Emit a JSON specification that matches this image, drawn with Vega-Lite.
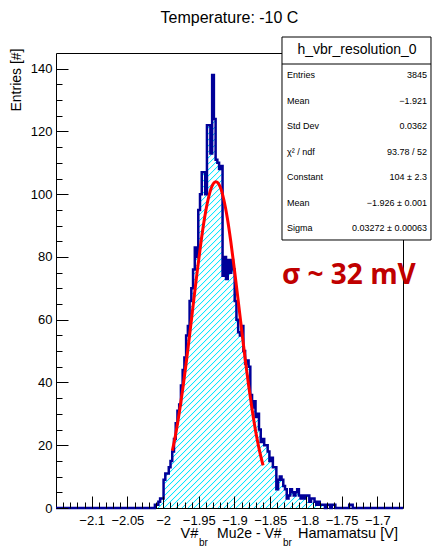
{
  "$schema": "https://vega.github.io/schema/vega-lite/v6.json",
  "width": 347,
  "height": 455,
  "autosize": "none",
  "padding": {"left": 56, "top": 53, "right": 30, "bottom": 39},
  "background": "white",
  "config": {"view": {"stroke": "#000", "strokeWidth": 1}, "font": "Liberation Sans"},
  "title": {"text": "Temperature: -10 C", "font": "Liberation Sans", "fontSize": 16, "fontWeight": "normal", "color": "#000", "anchor": "middle", "frame": "group", "offset": -2, "baseline": "alphabetic"},
  "datasets": {
    "hist": [
      {"x": -2.15, "n": 0},
      {"x": -2.01392, "n": 0}, {"x": -2.01149, "n": 1}, {"x": -2.00906, "n": 1}, {"x": -2.00663, "n": 2},
      {"x": -2.0042, "n": 3}, {"x": -2.00177, "n": 3}, {"x": -1.99934, "n": 9}, {"x": -1.99691, "n": 11},
      {"x": -1.99448, "n": 11}, {"x": -1.99205, "n": 13}, {"x": -1.98962, "n": 15}, {"x": -1.98719, "n": 18},
      {"x": -1.98476, "n": 22}, {"x": -1.98233, "n": 27}, {"x": -1.9799, "n": 31}, {"x": -1.97747, "n": 33},
      {"x": -1.97504, "n": 39}, {"x": -1.97261, "n": 44}, {"x": -1.97018, "n": 48}, {"x": -1.96775, "n": 55},
      {"x": -1.96532, "n": 58}, {"x": -1.96289, "n": 66}, {"x": -1.96046, "n": 70}, {"x": -1.95803, "n": 76},
      {"x": -1.9556, "n": 83}, {"x": -1.95317, "n": 80}, {"x": -1.95074, "n": 95}, {"x": -1.94831, "n": 100},
      {"x": -1.94588, "n": 107}, {"x": -1.94345, "n": 107}, {"x": -1.94102, "n": 100}, {"x": -1.93859, "n": 122},
      {"x": -1.93616, "n": 122}, {"x": -1.93373, "n": 113}, {"x": -1.9313, "n": 138}, {"x": -1.92887, "n": 124},
      {"x": -1.92644, "n": 111}, {"x": -1.92401, "n": 110}, {"x": -1.92158, "n": 108}, {"x": -1.91915, "n": 109},
      {"x": -1.91672, "n": 74}, {"x": -1.91429, "n": 80}, {"x": -1.91186, "n": 73}, {"x": -1.90943, "n": 79},
      {"x": -1.907, "n": 75}, {"x": -1.90457, "n": 79}, {"x": -1.90214, "n": 76}, {"x": -1.89971, "n": 66},
      {"x": -1.89728, "n": 60}, {"x": -1.89485, "n": 56}, {"x": -1.89242, "n": 55}, {"x": -1.88999, "n": 58},
      {"x": -1.88756, "n": 50}, {"x": -1.88513, "n": 46}, {"x": -1.8827, "n": 47}, {"x": -1.88027, "n": 45},
      {"x": -1.87784, "n": 36}, {"x": -1.87541, "n": 32}, {"x": -1.87298, "n": 34}, {"x": -1.87055, "n": 29},
      {"x": -1.86812, "n": 30}, {"x": -1.86569, "n": 25}, {"x": -1.86326, "n": 21}, {"x": -1.86083, "n": 22},
      {"x": -1.8584, "n": 20}, {"x": -1.85597, "n": 20}, {"x": -1.85354, "n": 18}, {"x": -1.85111, "n": 15},
      {"x": -1.84868, "n": 16}, {"x": -1.84625, "n": 13}, {"x": -1.84382, "n": 13}, {"x": -1.84139, "n": 6},
      {"x": -1.83896, "n": 9}, {"x": -1.83653, "n": 10}, {"x": -1.8341, "n": 9}, {"x": -1.83167, "n": 7},
      {"x": -1.82924, "n": 6}, {"x": -1.82681, "n": 3}, {"x": -1.82438, "n": 4}, {"x": -1.82195, "n": 6},
      {"x": -1.81952, "n": 5}, {"x": -1.81709, "n": 4}, {"x": -1.81466, "n": 5}, {"x": -1.81223, "n": 6},
      {"x": -1.8098, "n": 4}, {"x": -1.80737, "n": 3}, {"x": -1.80494, "n": 4}, {"x": -1.80251, "n": 3},
      {"x": -1.80008, "n": 4}, {"x": -1.79765, "n": 4}, {"x": -1.79522, "n": 2}, {"x": -1.79279, "n": 3},
      {"x": -1.79036, "n": 3}, {"x": -1.78793, "n": 2}, {"x": -1.7855, "n": 1}, {"x": -1.78307, "n": 2},
      {"x": -1.78064, "n": 1}, {"x": -1.77821, "n": 1}, {"x": -1.77578, "n": 1}, {"x": -1.77335, "n": 0},
      {"x": -1.77092, "n": 1}, {"x": -1.76849, "n": 1}, {"x": -1.76606, "n": 0}, {"x": -1.76363, "n": 1},
      {"x": -1.7612, "n": 1}, {"x": -1.75877, "n": 0}, {"x": -1.73933, "n": 1}, {"x": -1.7369, "n": 1},
      {"x": -1.73447, "n": 0}, {"x": -1.664, "n": 0}
    ],
    "fit": [
      {"v": -1.987, "g": 18.3}, {"v": -1.982, "g": 24.0}, {"v": -1.977, "g": 30.9}, {"v": -1.972, "g": 38.7},
      {"v": -1.967, "g": 47.4}, {"v": -1.962, "g": 56.8}, {"v": -1.957, "g": 66.4}, {"v": -1.952, "g": 75.8},
      {"v": -1.947, "g": 84.6}, {"v": -1.942, "g": 92.3}, {"v": -1.937, "g": 98.3}, {"v": -1.932, "g": 102.3},
      {"v": -1.926, "g": 104.0}, {"v": -1.92, "g": 102.3}, {"v": -1.915, "g": 98.3}, {"v": -1.91, "g": 92.3},
      {"v": -1.905, "g": 84.6}, {"v": -1.9, "g": 75.8}, {"v": -1.895, "g": 66.4}, {"v": -1.89, "g": 56.8},
      {"v": -1.885, "g": 47.4}, {"v": -1.88, "g": 38.7}, {"v": -1.875, "g": 30.9}, {"v": -1.87, "g": 24.0},
      {"v": -1.865, "g": 18.3}, {"v": -1.86, "g": 13.6}
    ],
    "stats": [
      {"i": 0, "label": "Entries", "value": "3845"},
      {"i": 1, "label": "Mean", "value": "−1.921"},
      {"i": 2, "label": "Std Dev", "value": "0.0362"},
      {"i": 3, "label": "χ² / ndf", "value": "93.78 / 52"},
      {"i": 4, "label": "Constant", "value": "104 ± 2.3"},
      {"i": 5, "label": "Mean", "value": "−1.926 ± 0.001"},
      {"i": 6, "label": "Sigma", "value": "0.03272 ± 0.00063"}
    ]
  },
  "layer": [
    {
      "resolve": {"axis": {"x": "independent", "y": "independent"}},
      "layer": [
        {
          "data": {"name": "hist"},
          "mark": {"type": "area", "interpolate": "step-after",
            "fill": {"gradient": "linear", "x1": 0, "y1": 0, "x2": 0.845, "y2": 1.0547, "stops": [
              {"offset": 0.2, "color": "#fff"}, {"offset": 0.2015, "color": "#00e5ff"}, {"offset": 0.203, "color": "#fff"},
              {"offset": 0.208, "color": "#fff"}, {"offset": 0.2095, "color": "#00e5ff"}, {"offset": 0.211, "color": "#fff"},
              {"offset": 0.216, "color": "#fff"}, {"offset": 0.2175, "color": "#00e5ff"}, {"offset": 0.219, "color": "#fff"},
              {"offset": 0.224, "color": "#fff"}, {"offset": 0.2255, "color": "#00e5ff"}, {"offset": 0.227, "color": "#fff"},
              {"offset": 0.232, "color": "#fff"}, {"offset": 0.2335, "color": "#00e5ff"}, {"offset": 0.235, "color": "#fff"},
              {"offset": 0.24, "color": "#fff"}, {"offset": 0.2415, "color": "#00e5ff"}, {"offset": 0.243, "color": "#fff"},
              {"offset": 0.248, "color": "#fff"}, {"offset": 0.2495, "color": "#00e5ff"}, {"offset": 0.251, "color": "#fff"},
              {"offset": 0.256, "color": "#fff"}, {"offset": 0.2575, "color": "#00e5ff"}, {"offset": 0.259, "color": "#fff"},
              {"offset": 0.264, "color": "#fff"}, {"offset": 0.2655, "color": "#00e5ff"}, {"offset": 0.267, "color": "#fff"},
              {"offset": 0.272, "color": "#fff"}, {"offset": 0.2735, "color": "#00e5ff"}, {"offset": 0.275, "color": "#fff"},
              {"offset": 0.28, "color": "#fff"}, {"offset": 0.2815, "color": "#00e5ff"}, {"offset": 0.283, "color": "#fff"},
              {"offset": 0.288, "color": "#fff"}, {"offset": 0.2895, "color": "#00e5ff"}, {"offset": 0.291, "color": "#fff"},
              {"offset": 0.296, "color": "#fff"}, {"offset": 0.2975, "color": "#00e5ff"}, {"offset": 0.299, "color": "#fff"},
              {"offset": 0.304, "color": "#fff"}, {"offset": 0.3055, "color": "#00e5ff"}, {"offset": 0.307, "color": "#fff"},
              {"offset": 0.312, "color": "#fff"}, {"offset": 0.3135, "color": "#00e5ff"}, {"offset": 0.315, "color": "#fff"},
              {"offset": 0.32, "color": "#fff"}, {"offset": 0.3215, "color": "#00e5ff"}, {"offset": 0.323, "color": "#fff"},
              {"offset": 0.328, "color": "#fff"}, {"offset": 0.3295, "color": "#00e5ff"}, {"offset": 0.331, "color": "#fff"},
              {"offset": 0.336, "color": "#fff"}, {"offset": 0.3375, "color": "#00e5ff"}, {"offset": 0.339, "color": "#fff"},
              {"offset": 0.344, "color": "#fff"}, {"offset": 0.3455, "color": "#00e5ff"}, {"offset": 0.347, "color": "#fff"},
              {"offset": 0.352, "color": "#fff"}, {"offset": 0.3535, "color": "#00e5ff"}, {"offset": 0.355, "color": "#fff"},
              {"offset": 0.36, "color": "#fff"}, {"offset": 0.3615, "color": "#00e5ff"}, {"offset": 0.363, "color": "#fff"},
              {"offset": 0.368, "color": "#fff"}, {"offset": 0.3695, "color": "#00e5ff"}, {"offset": 0.371, "color": "#fff"},
              {"offset": 0.376, "color": "#fff"}, {"offset": 0.3775, "color": "#00e5ff"}, {"offset": 0.379, "color": "#fff"},
              {"offset": 0.384, "color": "#fff"}, {"offset": 0.3855, "color": "#00e5ff"}, {"offset": 0.387, "color": "#fff"},
              {"offset": 0.392, "color": "#fff"}, {"offset": 0.3935, "color": "#00e5ff"}, {"offset": 0.395, "color": "#fff"},
              {"offset": 0.4, "color": "#fff"}, {"offset": 0.4015, "color": "#00e5ff"}, {"offset": 0.403, "color": "#fff"},
              {"offset": 0.408, "color": "#fff"}, {"offset": 0.4095, "color": "#00e5ff"}, {"offset": 0.411, "color": "#fff"},
              {"offset": 0.416, "color": "#fff"}, {"offset": 0.4175, "color": "#00e5ff"}, {"offset": 0.419, "color": "#fff"},
              {"offset": 0.424, "color": "#fff"}, {"offset": 0.4255, "color": "#00e5ff"}, {"offset": 0.427, "color": "#fff"},
              {"offset": 0.432, "color": "#fff"}, {"offset": 0.4335, "color": "#00e5ff"}, {"offset": 0.435, "color": "#fff"},
              {"offset": 0.44, "color": "#fff"}, {"offset": 0.4415, "color": "#00e5ff"}, {"offset": 0.443, "color": "#fff"},
              {"offset": 0.448, "color": "#fff"}, {"offset": 0.4495, "color": "#00e5ff"}, {"offset": 0.451, "color": "#fff"},
              {"offset": 0.456, "color": "#fff"}, {"offset": 0.4575, "color": "#00e5ff"}, {"offset": 0.459, "color": "#fff"},
              {"offset": 0.464, "color": "#fff"}, {"offset": 0.4655, "color": "#00e5ff"}, {"offset": 0.467, "color": "#fff"},
              {"offset": 0.472, "color": "#fff"}, {"offset": 0.4735, "color": "#00e5ff"}, {"offset": 0.475, "color": "#fff"},
              {"offset": 0.48, "color": "#fff"}, {"offset": 0.4815, "color": "#00e5ff"}, {"offset": 0.483, "color": "#fff"},
              {"offset": 0.488, "color": "#fff"}, {"offset": 0.4895, "color": "#00e5ff"}, {"offset": 0.491, "color": "#fff"},
              {"offset": 0.496, "color": "#fff"}, {"offset": 0.4975, "color": "#00e5ff"}, {"offset": 0.499, "color": "#fff"},
              {"offset": 0.504, "color": "#fff"}, {"offset": 0.5055, "color": "#00e5ff"}, {"offset": 0.507, "color": "#fff"},
              {"offset": 0.512, "color": "#fff"}, {"offset": 0.5135, "color": "#00e5ff"}, {"offset": 0.515, "color": "#fff"},
              {"offset": 0.52, "color": "#fff"}, {"offset": 0.5215, "color": "#00e5ff"}, {"offset": 0.523, "color": "#fff"},
              {"offset": 0.528, "color": "#fff"}, {"offset": 0.5295, "color": "#00e5ff"}, {"offset": 0.531, "color": "#fff"},
              {"offset": 0.536, "color": "#fff"}, {"offset": 0.5375, "color": "#00e5ff"}, {"offset": 0.539, "color": "#fff"},
              {"offset": 0.544, "color": "#fff"}, {"offset": 0.5455, "color": "#00e5ff"}, {"offset": 0.547, "color": "#fff"},
              {"offset": 0.552, "color": "#fff"}, {"offset": 0.5535, "color": "#00e5ff"}, {"offset": 0.555, "color": "#fff"},
              {"offset": 0.56, "color": "#fff"}, {"offset": 0.5615, "color": "#00e5ff"}, {"offset": 0.563, "color": "#fff"},
              {"offset": 0.568, "color": "#fff"}, {"offset": 0.5695, "color": "#00e5ff"}, {"offset": 0.571, "color": "#fff"},
              {"offset": 0.576, "color": "#fff"}, {"offset": 0.5775, "color": "#00e5ff"}, {"offset": 0.579, "color": "#fff"},
              {"offset": 0.584, "color": "#fff"}, {"offset": 0.5855, "color": "#00e5ff"}, {"offset": 0.587, "color": "#fff"},
              {"offset": 0.592, "color": "#fff"}, {"offset": 0.5935, "color": "#00e5ff"}, {"offset": 0.595, "color": "#fff"},
              {"offset": 0.6, "color": "#fff"}, {"offset": 0.6015, "color": "#00e5ff"}, {"offset": 0.603, "color": "#fff"},
              {"offset": 0.608, "color": "#fff"}, {"offset": 0.6095, "color": "#00e5ff"}, {"offset": 0.611, "color": "#fff"},
              {"offset": 0.616, "color": "#fff"}, {"offset": 0.6175, "color": "#00e5ff"}, {"offset": 0.619, "color": "#fff"},
              {"offset": 0.624, "color": "#fff"}, {"offset": 0.6255, "color": "#00e5ff"}, {"offset": 0.627, "color": "#fff"},
              {"offset": 0.632, "color": "#fff"}, {"offset": 0.6335, "color": "#00e5ff"}, {"offset": 0.635, "color": "#fff"},
              {"offset": 0.64, "color": "#fff"}, {"offset": 0.6415, "color": "#00e5ff"}, {"offset": 0.643, "color": "#fff"},
              {"offset": 0.648, "color": "#fff"}, {"offset": 0.6495, "color": "#00e5ff"}, {"offset": 0.651, "color": "#fff"},
              {"offset": 0.656, "color": "#fff"}, {"offset": 0.6575, "color": "#00e5ff"}, {"offset": 0.659, "color": "#fff"},
              {"offset": 0.664, "color": "#fff"}, {"offset": 0.6655, "color": "#00e5ff"}, {"offset": 0.667, "color": "#fff"},
              {"offset": 0.672, "color": "#fff"}, {"offset": 0.6735, "color": "#00e5ff"}, {"offset": 0.675, "color": "#fff"},
              {"offset": 0.68, "color": "#fff"}, {"offset": 0.6815, "color": "#00e5ff"}, {"offset": 0.683, "color": "#fff"},
              {"offset": 0.688, "color": "#fff"}, {"offset": 0.6895, "color": "#00e5ff"}, {"offset": 0.691, "color": "#fff"},
              {"offset": 0.696, "color": "#fff"}, {"offset": 0.6975, "color": "#00e5ff"}, {"offset": 0.699, "color": "#fff"},
              {"offset": 0.704, "color": "#fff"}, {"offset": 0.7055, "color": "#00e5ff"}, {"offset": 0.707, "color": "#fff"},
              {"offset": 0.712, "color": "#fff"}, {"offset": 0.7135, "color": "#00e5ff"}, {"offset": 0.715, "color": "#fff"},
              {"offset": 0.72, "color": "#fff"}, {"offset": 0.7215, "color": "#00e5ff"}, {"offset": 0.723, "color": "#fff"},
              {"offset": 0.728, "color": "#fff"}, {"offset": 0.7295, "color": "#00e5ff"}, {"offset": 0.731, "color": "#fff"},
              {"offset": 0.736, "color": "#fff"}, {"offset": 0.7375, "color": "#00e5ff"}, {"offset": 0.739, "color": "#fff"},
              {"offset": 0.744, "color": "#fff"}, {"offset": 0.7455, "color": "#00e5ff"}, {"offset": 0.747, "color": "#fff"},
              {"offset": 0.752, "color": "#fff"}, {"offset": 0.7535, "color": "#00e5ff"}, {"offset": 0.755, "color": "#fff"},
              {"offset": 0.76, "color": "#fff"}, {"offset": 0.7615, "color": "#00e5ff"}, {"offset": 0.763, "color": "#fff"},
              {"offset": 0.768, "color": "#fff"}, {"offset": 0.7695, "color": "#00e5ff"}, {"offset": 0.771, "color": "#fff"},
              {"offset": 0.776, "color": "#fff"}, {"offset": 0.7775, "color": "#00e5ff"}, {"offset": 0.779, "color": "#fff"},
              {"offset": 0.784, "color": "#fff"}, {"offset": 0.7855, "color": "#00e5ff"}, {"offset": 0.787, "color": "#fff"},
              {"offset": 0.792, "color": "#fff"}, {"offset": 0.7935, "color": "#00e5ff"}, {"offset": 0.795, "color": "#fff"},
              {"offset": 0.8, "color": "#fff"}, {"offset": 0.8015, "color": "#00e5ff"}, {"offset": 0.803, "color": "#fff"},
              {"offset": 0.808, "color": "#fff"}, {"offset": 0.8095, "color": "#00e5ff"}, {"offset": 0.811, "color": "#fff"},
              {"offset": 0.816, "color": "#fff"}, {"offset": 0.8175, "color": "#00e5ff"}, {"offset": 0.819, "color": "#fff"},
              {"offset": 0.824, "color": "#fff"}, {"offset": 0.8255, "color": "#00e5ff"}, {"offset": 0.827, "color": "#fff"},
              {"offset": 0.832, "color": "#fff"}, {"offset": 0.8335, "color": "#00e5ff"}, {"offset": 0.835, "color": "#fff"},
              {"offset": 0.84, "color": "#fff"}, {"offset": 0.8415, "color": "#00e5ff"}, {"offset": 0.843, "color": "#fff"},
              {"offset": 0.848, "color": "#fff"}, {"offset": 0.8495, "color": "#00e5ff"}, {"offset": 0.851, "color": "#fff"},
              {"offset": 0.856, "color": "#fff"}, {"offset": 0.8575, "color": "#00e5ff"}, {"offset": 0.859, "color": "#fff"},
              {"offset": 0.864, "color": "#fff"}, {"offset": 0.8655, "color": "#00e5ff"}, {"offset": 0.867, "color": "#fff"},
              {"offset": 0.872, "color": "#fff"}, {"offset": 0.8735, "color": "#00e5ff"}, {"offset": 0.875, "color": "#fff"},
              {"offset": 0.88, "color": "#fff"}, {"offset": 0.8815, "color": "#00e5ff"}, {"offset": 0.883, "color": "#fff"},
              {"offset": 0.888, "color": "#fff"}, {"offset": 0.8895, "color": "#00e5ff"}, {"offset": 0.891, "color": "#fff"},
              {"offset": 0.896, "color": "#fff"}, {"offset": 0.8975, "color": "#00e5ff"}, {"offset": 0.899, "color": "#fff"},
              {"offset": 0.904, "color": "#fff"}, {"offset": 0.9055, "color": "#00e5ff"}, {"offset": 0.907, "color": "#fff"},
              {"offset": 0.912, "color": "#fff"}, {"offset": 0.9135, "color": "#00e5ff"}, {"offset": 0.915, "color": "#fff"},
              {"offset": 0.92, "color": "#fff"}, {"offset": 0.9215, "color": "#00e5ff"}, {"offset": 0.923, "color": "#fff"},
              {"offset": 0.928, "color": "#fff"}, {"offset": 0.9295, "color": "#00e5ff"}, {"offset": 0.931, "color": "#fff"}
            ]}},
          "encoding": {
            "x": {"field": "x", "type": "quantitative", "scale": {"domain": [-2.15, -1.664], "nice": false, "zero": false},
              "axis": {"orient": "bottom", "values": [-2.1, -2.05, -2, -1.95, -1.9, -1.85, -1.8, -1.75, -1.7], "format": ".3~r", "ticks": false, "domain": false, "grid": false, "labelFont": "Liberation Sans", "labelFontSize": 13, "labelColor": "#000", "labelPadding": 6, "labelFlush": false, "labelOverlap": false, "title": null}},
            "y": {"field": "n", "type": "quantitative", "scale": {"domain": [0, 145], "nice": false, "zero": false},
              "axis": {"orient": "left", "values": [0, 20, 40, 60, 80, 100, 120, 140], "format": "d", "ticks": false, "domain": false, "grid": false, "labelFont": "Liberation Sans", "labelFontSize": 13, "labelColor": "#000", "labelPadding": 4, "labelFlush": false, "labelOverlap": false,
                "title": "Entries [#]", "titleFont": "Liberation Sans", "titleFontSize": 14, "titleFontWeight": "normal", "titleColor": "#000", "titleAngle": -90, "titleAlign": "right", "titleBaseline": "top", "titleX": -47, "titleY": -5}}
          }
        },
        {
          "data": {"name": "hist"},
          "mark": {"type": "line", "interpolate": "step-after", "stroke": "#000099", "strokeWidth": 2.5},
          "encoding": {
            "x": {"field": "x", "type": "quantitative", "scale": {"domain": [-2.15, -1.664], "nice": false, "zero": false},
              "axis": {"orient": "bottom", "values": [-2.1, -2.05, -2, -1.95, -1.9, -1.85, -1.8, -1.75, -1.7], "labels": false, "domain": false, "grid": false, "ticks": true, "tickSize": -12, "tickColor": "#000", "tickWidth": 1, "title": null, "zindex": 1}},
            "y": {"field": "n", "type": "quantitative", "scale": {"domain": [0, 145], "nice": false, "zero": false},
              "axis": {"orient": "left", "values": [0, 20, 40, 60, 80, 100, 120, 140], "labels": false, "domain": false, "grid": false, "ticks": true, "tickSize": -12, "tickColor": "#000", "tickWidth": 1, "title": null, "zindex": 1}}
          }
        },
        {
          "data": {"name": "fit"},
          "mark": {"type": "line", "interpolate": "monotone", "stroke": "#ff0000", "strokeWidth": 3},
          "encoding": {
            "x": {"field": "v", "type": "quantitative", "scale": {"domain": [-2.15, -1.664], "nice": false, "zero": false},
              "axis": {"orient": "bottom", "values": [-2.14, -2.13, -2.12, -2.11, -2.09, -2.08, -2.07, -2.06, -2.04, -2.03, -2.02, -2.01, -1.99, -1.98, -1.97, -1.96, -1.94, -1.93, -1.92, -1.91, -1.89, -1.88, -1.87, -1.86, -1.84, -1.83, -1.82, -1.81, -1.79, -1.78, -1.77, -1.76, -1.74, -1.73, -1.72, -1.71, -1.69, -1.68, -1.67], "labels": false, "domain": false, "grid": false, "ticks": true, "tickSize": -6, "tickColor": "#000", "tickWidth": 1, "title": null, "zindex": 1}},
            "y": {"field": "g", "type": "quantitative", "scale": {"domain": [0, 145], "nice": false, "zero": false},
              "axis": {"orient": "left", "values": [5, 10, 15, 25, 30, 35, 45, 50, 55, 65, 70, 75, 85, 90, 95, 105, 110, 115, 125, 130, 135], "labels": false, "domain": false, "grid": false, "ticks": true, "tickSize": -6, "tickColor": "#000", "tickWidth": 1, "title": null, "zindex": 1}}
          }
        },
        {
          "data": {"values": [{}]},
          "mark": {"type": "text", "text": "σ ~ 32 mV", "font": "Open Sans", "fontWeight": "bold", "fontSize": 28, "color": "#c00000", "align": "left", "baseline": "alphabetic"},
          "encoding": {
            "x": {"datum": -1.83347, "type": "quantitative", "scale": {"domain": [-2.15, -1.664], "nice": false, "zero": false}, "axis": null},
            "y": {"datum": 71.3, "type": "quantitative", "scale": {"domain": [0, 145], "nice": false, "zero": false}, "axis": null}
          }
        },
        {
          "data": {"values": [{}]},
          "mark": {"type": "text", "text": "V#", "font": "Liberation Sans", "fontSize": 14.5, "color": "#000", "align": "left", "baseline": "alphabetic"},
          "encoding": {
            "x": {"datum": -1.97563, "type": "quantitative", "scale": {"domain": [-2.15, -1.664], "nice": false, "zero": false}, "axis": null},
            "y": {"datum": -9.5, "type": "quantitative", "scale": {"domain": [0, 145], "nice": false, "zero": false}, "axis": null}
          }
        },
        {
          "data": {"values": [{}]},
          "mark": {"type": "text", "text": "br", "font": "Liberation Sans", "fontSize": 10, "color": "#000", "align": "left", "baseline": "alphabetic"},
          "encoding": {
            "x": {"datum": -1.94972, "type": "quantitative", "scale": {"domain": [-2.15, -1.664], "nice": false, "zero": false}, "axis": null},
            "y": {"datum": -12.0, "type": "quantitative", "scale": {"domain": [0, 145], "nice": false, "zero": false}, "axis": null}
          }
        },
        {
          "data": {"values": [{}]},
          "mark": {"type": "text", "text": "Mu2e - V#", "font": "Liberation Sans", "fontSize": 14, "color": "#000", "align": "left", "baseline": "alphabetic"},
          "encoding": {
            "x": {"datum": -1.92451, "type": "quantitative", "scale": {"domain": [-2.15, -1.664], "nice": false, "zero": false}, "axis": null},
            "y": {"datum": -9.5, "type": "quantitative", "scale": {"domain": [0, 145], "nice": false, "zero": false}, "axis": null}
          }
        },
        {
          "data": {"values": [{}]},
          "mark": {"type": "text", "text": "br", "font": "Liberation Sans", "fontSize": 10, "color": "#000", "align": "left", "baseline": "alphabetic"},
          "encoding": {
            "x": {"datum": -1.83207, "type": "quantitative", "scale": {"domain": [-2.15, -1.664], "nice": false, "zero": false}, "axis": null},
            "y": {"datum": -12.0, "type": "quantitative", "scale": {"domain": [0, 145], "nice": false, "zero": false}, "axis": null}
          }
        },
        {
          "data": {"values": [{}]},
          "mark": {"type": "text", "text": "Hamamatsu  [V]", "font": "Liberation Sans", "fontSize": 14.5, "color": "#000", "align": "left", "baseline": "alphabetic"},
          "encoding": {
            "x": {"datum": -1.81106, "type": "quantitative", "scale": {"domain": [-2.15, -1.664], "nice": false, "zero": false}, "axis": null},
            "y": {"datum": -9.5, "type": "quantitative", "scale": {"domain": [0, 145], "nice": false, "zero": false}, "axis": null}
          }
        }
      ]
    },
    {
      "layer": [
        {
          "data": {"values": [{}]},
          "mark": {"type": "rect", "fill": "white", "stroke": "#000", "strokeWidth": 1},
          "encoding": {
            "x": {"datum": -1.83347, "type": "quantitative", "scale": {"domain": [-2.15, -1.664], "nice": false, "zero": false}, "axis": null},
            "x2": {"datum": -1.62479},
            "y": {"datum": -1.49, "type": "quantitative", "scale": {"domain": [-0.8627, 16.98], "reverse": true, "nice": false, "zero": false}, "axis": null},
            "y2": {"datum": 6.47}
          }
        },
        {
          "data": {"values": [{}]},
          "mark": {"type": "rule", "stroke": "#000", "strokeWidth": 1},
          "encoding": {
            "x": {"datum": -1.83347, "type": "quantitative", "scale": {"domain": [-2.15, -1.664], "nice": false, "zero": false}, "axis": null},
            "x2": {"datum": -1.62479},
            "y": {"datum": -0.431, "type": "quantitative", "scale": {"domain": [-0.8627, 16.98], "reverse": true, "nice": false, "zero": false}, "axis": null}
          }
        },
        {
          "data": {"values": [{}]},
          "mark": {"type": "text", "text": "h_vbr_resolution_0", "font": "Liberation Sans", "fontSize": 14, "color": "#000", "align": "center", "baseline": "middle"},
          "encoding": {
            "x": {"datum": -1.72843, "type": "quantitative", "scale": {"domain": [-2.15, -1.664], "nice": false, "zero": false}, "axis": null},
            "y": {"datum": -0.98, "type": "quantitative", "scale": {"domain": [-0.8627, 16.98], "reverse": true, "nice": false, "zero": false}, "axis": null}
          }
        },
        {
          "data": {"name": "stats"},
          "mark": {"type": "text", "font": "Liberation Sans", "fontSize": 9, "color": "#000", "align": "left", "baseline": "middle"},
          "encoding": {
            "x": {"datum": -1.82647, "type": "quantitative", "scale": {"domain": [-2.15, -1.664], "nice": false, "zero": false}, "axis": null},
            "y": {"field": "i", "type": "quantitative", "scale": {"domain": [-0.8627, 16.98], "reverse": true, "nice": false, "zero": false}, "axis": null},
            "text": {"field": "label"}
          }
        },
        {
          "data": {"name": "stats"},
          "mark": {"type": "text", "font": "Liberation Sans", "fontSize": 9, "color": "#000", "align": "right", "baseline": "middle"},
          "encoding": {
            "x": {"datum": -1.63039, "type": "quantitative", "scale": {"domain": [-2.15, -1.664], "nice": false, "zero": false}, "axis": null},
            "y": {"field": "i", "type": "quantitative", "scale": {"domain": [-0.8627, 16.98], "reverse": true, "nice": false, "zero": false}, "axis": null},
            "text": {"field": "value"}
          }
        }
      ]
    }
  ],
  "resolve": {"scale": {"y": "independent"}, "axis": {"x": "independent", "y": "independent"}}
}
